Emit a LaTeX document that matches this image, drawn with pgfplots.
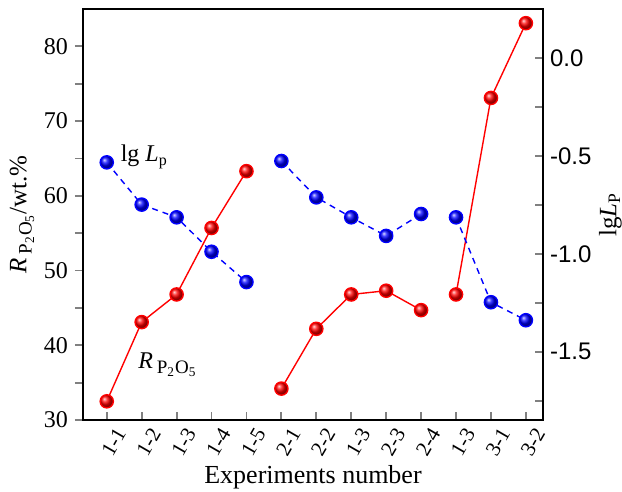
\documentclass[border=0pt]{standalone}
\usepackage{pgfplots}
\pgfplotsset{compat=1.18}
\usepackage{fontspec}
\setmainfont{Liberation Serif}
\newfontfamily\sansf{Liberation Sans}
\pgfplotstableread{
x y
0 32.5
1 43.1
2 46.8
3 55.7
4 63.3
4.5 nan
5 34.2
6 42.2
7 46.8
8 47.3
9 44.7
9.5 nan
10 46.8
11 73.1
12 83.1
}\redtab
\pgfplotstableread{
x y
0 -0.532
1 -0.748
2 -0.813
3 -0.989
4 -1.144
4.5 nan
5 -0.525
6 -0.711
7 -0.813
8 -0.908
9 -0.796
9.5 nan
10 -0.813
11 -1.247
12 -1.339
}\bluetab
\begin{document}
\begin{tikzpicture}
\pgfplotsset{
  common/.style={
    width=230pt, height=205.5pt, scale only axis,
    xmin=-0.68, xmax=12.49,
    axis line style={line width=1pt},
    major tick style={line width=0.9pt},
    minor tick style={line width=0.9pt},
    major tick length=4pt, minor tick length=4pt,
    /pgf/number format/assume math mode=true,
    unbounded coords=jump,
    tick label style={font=\fontsize{12}{14}\selectfont},
    label style={font=\fontsize{12.5}{15}\selectfont},
  }
}
\begin{axis}[common, name=L,
  ymin=30, ymax=85,
  ytick={30,40,50,60,70,80},
  minor ytick={35,45,55,65,75},
  xtick=\empty,
  ytick pos=left,
  tick align=outside,
  ylabel={\textit{R}\,{\fontsize{9.5}{9.5}\selectfont\raisebox{-0.6ex}{P\textsubscript{2}O\textsubscript{5}}}/wt.\%},
  ylabel style={yshift=-2pt},
]
\addplot[red, line width=0.7pt, mark=ball, mark size=3.3pt, mark options={ball color=red}] table[x=x,y=y] {\redtab};
\node[anchor=west, font=\fontsize{12}{14}\selectfont] at (axis cs:0.2,65.2) {lg \textit{L}\textsubscript{p}};
\node[anchor=base west, font=\fontsize{12}{14}\selectfont] at (axis cs:0.7,36.9) {\textit{R}\,{\fontsize{9.5}{9.5}\selectfont\raisebox{-0.6ex}{P\textsubscript{2}O\textsubscript{5}}}};
\end{axis}
\begin{axis}[common,
  ymin=-1.849, ymax=0.252,
  ytick={-1.5,-1.0,-0.5,0.0},
  yticklabels={-1.5,-1.0,-0.5,0.0},
  minor ytick={-1.75,-1.25,-0.75,-0.25},
  ytick pos=right,
  yticklabel pos=right,
  yticklabel style={font=\sansf\fontsize{12}{14}\selectfont},
  tick align=inside,
  xtick={0,...,12},
  xtick pos=bottom,
  xticklabels={1-1,1-2,1-3,1-4,1-5,2-1,2-2,1-3,2-3,2-4,1-3,3-1,3-2},
  xticklabel style={font=\fontsize{10.5}{12}\selectfont, xshift=3.5pt, yshift=-1.5pt, rotate=60, anchor=north east, inner sep=1pt},
  xlabel={Experiments number},
  xlabel style={font=\fontsize{13}{15}\selectfont, yshift=1pt},
  ylabel={lg\textit{L}\textsubscript{P}},
  ylabel style={yshift=3pt},
]
\addplot[blue, line width=0.7pt, dash pattern=on 3pt off 2.5pt, mark=ball, mark size=3.3pt, mark options={ball color=blue, solid}] table[x=x,y=y] {\bluetab};
\end{axis}
\pgfresetboundingbox
\path[use as bounding box] (-41.5pt,-36pt) rectangle (269.5pt,210pt);
\end{tikzpicture}
\end{document}
